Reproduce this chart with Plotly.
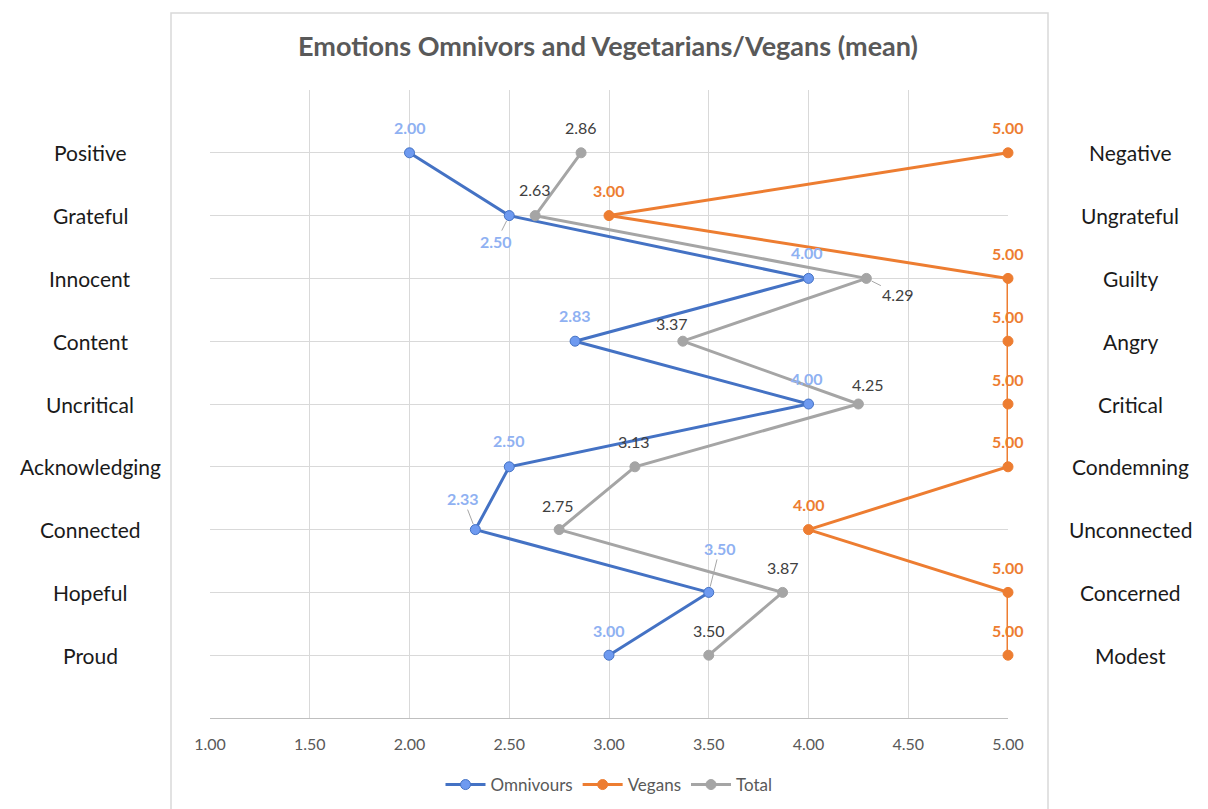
import plotly.graph_objects as go

left_labels = ["Positive", "Grateful", "Innocent", "Content", "Uncritical",
               "Acknowledging", "Connected", "Hopeful", "Proud"]
right_labels = ["Negative", "Ungrateful", "Guilty", "Angry", "Critical",
                "Condemning", "Unconnected", "Concerned", "Modest"]
levels = [9, 8, 7, 6, 5, 4, 3, 2, 1]

omnivours = [2.00, 2.50, 4.00, 2.83, 4.00, 2.50, 2.33, 3.50, 3.00]
vegans = [5.00, 3.00, 5.00, 5.00, 5.00, 5.00, 4.00, 5.00, 5.00]
total = [2.86, 2.63, 4.29, 3.37, 4.25, 3.13, 2.75, 3.87, 3.50]

x_ticks = [1.0, 1.5, 2.0, 2.5, 3.0, 3.5, 4.0, 4.5, 5.0]

FONT = "Lato"
GRID = "#d9d9d9"

# label offsets (px) per point, a third item means draw a leader line
omni_off = [(0, -25), (-13, 26, True), (-2, -26), (0, -26), (-2, -26),
            (0, -26), (-12, -31, True), (11, -44, True), (0, -25)]
veg_off = [(0, -25)] * 9
tot_off = [(0, -25), (0, -26), (32, 16, True), (-11, -18), (10, -20),
           (-1, -25), (-1, -24), (0, -25), (0, -25)]

series = [
    ("Omnivours", omnivours, "#4472c4", "#6e9af0", "#8fb1f2", True, omni_off),
    ("Vegans", vegans, "#ed7d31", "#ed7d31", "#ed7d31", True, veg_off),
    ("Total", total, "#a5a5a5", "#a5a5a5", "#404040", False, tot_off),
]

fig = go.Figure()
annotations = []
for name, vals, lc, mc, tc, bold, offs in series:
    fig.add_trace(go.Scatter(
        x=vals, y=levels, mode="lines+markers", name=name, cliponaxis=False,
        line=dict(color=lc, width=3),
        marker=dict(size=10, color=mc, line=dict(color=lc, width=1)),
    ))
    for v, lv, off in zip(vals, levels, offs):
        txt = f"<b>{v:.2f}</b>" if bold else f"{v:.2f}"
        if len(off) == 3:
            annotations.append(dict(
                x=v, y=lv, xref="x", yref="y", text=txt, showarrow=True,
                arrowhead=0, arrowwidth=1, arrowcolor="#a6a6a6",
                ax=off[0], ay=off[1], standoff=6, startstandoff=0,
                font=dict(family=FONT, size=16, color=tc)))
        else:
            annotations.append(dict(
                x=v, y=lv, xref="x", yref="y", text=txt, showarrow=False,
                xshift=off[0], yshift=-off[1],
                font=dict(family=FONT, size=16, color=tc)))

for lab, lv in zip(left_labels, levels):
    annotations.append(dict(x=-0.150, y=lv, xref="paper", yref="y", text=lab,
                            showarrow=False, xanchor="center",
                            font=dict(family=FONT, size=21, color="#1a1a1a")))
for lab, lv in zip(right_labels, levels):
    annotations.append(dict(x=1.153, y=lv, xref="paper", yref="y", text=lab,
                            showarrow=False, xanchor="center",
                            font=dict(family=FONT, size=21, color="#1a1a1a")))

fig.update_layout(
    width=1208, height=809,
    margin=dict(l=210, r=200, t=90, b=91),
    paper_bgcolor="white", plot_bgcolor="white",
    title=dict(text="<b>Emotions Omnivors and Vegetarians/Vegans (mean)</b>",
               x=608 / 1208, xanchor="center", y=1 - 47 / 809, yanchor="middle",
               font=dict(family=FONT, size=27, color="#595959")),
    xaxis=dict(range=[1, 5], tickvals=x_ticks,
               ticktext=[f"{t:.2f}" for t in x_ticks],
               showgrid=True, gridcolor=GRID, gridwidth=1, zeroline=False,
               showline=True, linecolor="#bfbfbf", ticks="", ticklen=0,
               ticklabelstandoff=12, automargin=False,
               tickfont=dict(family=FONT, size=16, color="#595959")),
    yaxis=dict(range=[0, 10], tickvals=list(range(0, 11)), showticklabels=False,
               showgrid=True, gridcolor=GRID, gridwidth=1, zeroline=False,
               showline=False, automargin=False),
    showlegend=True,
    legend=dict(orientation="h", x=609 / 1208, xanchor="center",
                xref="container", yref="container",
                y=1 - 785 / 809, yanchor="middle",
                font=dict(family=FONT, size=17, color="#595959"),
                itemwidth=40, traceorder="normal"),
    annotations=annotations,
    shapes=[dict(type="rect", xref="paper", yref="paper",
                 x0=(171 - 210) / 798, x1=(1048 - 210) / 798,
                 y0=-0.2, y1=1 + 77 / 628,
                 line=dict(color=GRID, width=1.5), layer="below")],
)

fig.write_html("out.html", config={"displayModeBar": False},
               post_script="document.body.style.margin='0';")
